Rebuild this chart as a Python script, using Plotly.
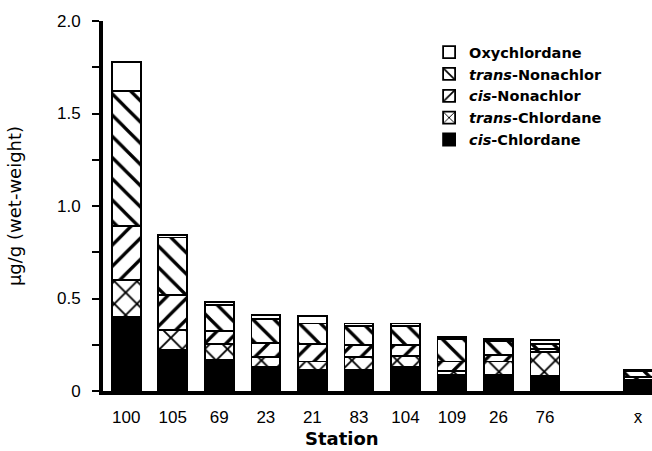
import plotly.graph_objects as go

# Stations (a blank slot separates the mean bar)
stations = ["100", "105", "69", "23", "21", "83", "104", "109", "26", "76", " ", "x\u0304"]

# Chlordane compounds, µg/g wet weight
cis_chlordane   = [0.40, 0.22, 0.17, 0.13, 0.115, 0.115, 0.13, 0.085, 0.085, 0.08, None, 0.05]
trans_chlordane = [0.20, 0.11, 0.085, 0.055, 0.045, 0.07, 0.06, 0.025, 0.075, 0.13, None, 0.01]
cis_nonachlor   = [0.29, 0.19, 0.07, 0.075, 0.095, 0.065, 0.06, 0.05, 0.035, 0.015, None, 0.015]
trans_nonachlor = [0.73, 0.31, 0.14, 0.13, 0.11, 0.10, 0.10, 0.12, 0.075, 0.03, None, 0.03]
oxychlordane    = [0.16, 0.015, 0.015, 0.02, 0.04, 0.015, 0.015, 0.01, 0.01, 0.02, None, 0.01]

y_tickvals = [0, 0.5, 1.0, 1.5, 2.0]
y_ticktext = ["0", "0.5", "1.0", "1.5", "2.0"]

TICK_FONT = "Liberation Sans, Arial, Helvetica, sans-serif"
LABEL_FONT = "DejaVu Sans, Verdana, sans-serif"

series = [
    ("<b><i>cis</i>-Chlordane</b>", cis_chlordane, "black", "", 14, 0.2),
    ("<b><i>trans</i>-Chlordane</b>", trans_chlordane, "white", "x", 16, 0.22),
    ("<b><i>cis</i>-Nonachlor</b>", cis_nonachlor, "white", "/", 15, 0.22),
    ("<b><i>trans</i>-Nonachlor</b>", trans_nonachlor, "white", "\\", 15, 0.22),
    ("<b>Oxychlordane</b>", oxychlordane, "white", "", 14, 0.2),
]

fig = go.Figure()
for name, vals, color, shape, psize, psolid in series:
    pattern = (dict(shape=shape, fgcolor="black", bgcolor=color, fgopacity=1,
                    size=psize, solidity=psolid, fillmode="replace") if shape else None)
    fig.add_trace(go.Bar(
        x=stations, y=vals, name=name,
        marker=dict(color=color, line=dict(color="black", width=1.8), pattern=pattern),
    ))

fig.update_layout(
    barmode="stack",
    bargap=0.38,
    width=652, height=451,
    margin=dict(l=103, r=0, t=21, b=60),
    paper_bgcolor="white", plot_bgcolor="white",
    font=dict(family=TICK_FONT, color="black", size=17),
    legend=dict(
        x=0.594, y=0.959, xanchor="left", yanchor="top",
        traceorder="reversed", font=dict(size=14.5, family=LABEL_FONT, color="black"),
        bgcolor="rgba(0,0,0,0)", tracegroupgap=0, itemwidth=30,
    ),
    showlegend=True,
    annotations=[dict(
        text="<b>Station</b>", xref="paper", yref="paper", x=0.435, y=0,
        xanchor="center", yanchor="top", yshift=-36, showarrow=False, borderpad=0,
        font=dict(size=18, family=LABEL_FONT, color="black"),
    )],
)

fig.update_xaxes(
    type="category", categoryorder="array", categoryarray=stations,
    range=[-0.5, 11.3],
    showline=True, linecolor="black", linewidth=4,
    ticks="", showgrid=False, ticklabelstandoff=8,
    tickfont=dict(size=17, family=TICK_FONT),
)
fig.update_yaxes(
    range=[0, 2.0],
    tickvals=y_tickvals, ticktext=y_ticktext,
    showline=True, linecolor="black", linewidth=4,
    ticks="outside", ticklen=7, tickwidth=2, tickcolor="black",
    minor=dict(tickvals=[0.25, 0.75, 1.25, 1.75], ticks="outside", ticklen=7, tickwidth=2, tickcolor="black"),
    showgrid=False, zeroline=False, ticklabelstandoff=8,
    tickfont=dict(size=17, family=TICK_FONT),
    title=dict(text="µg/g (wet-weight)", font=dict(size=18, family=LABEL_FONT), standoff=32),
)

fig.write_html("out.html")
